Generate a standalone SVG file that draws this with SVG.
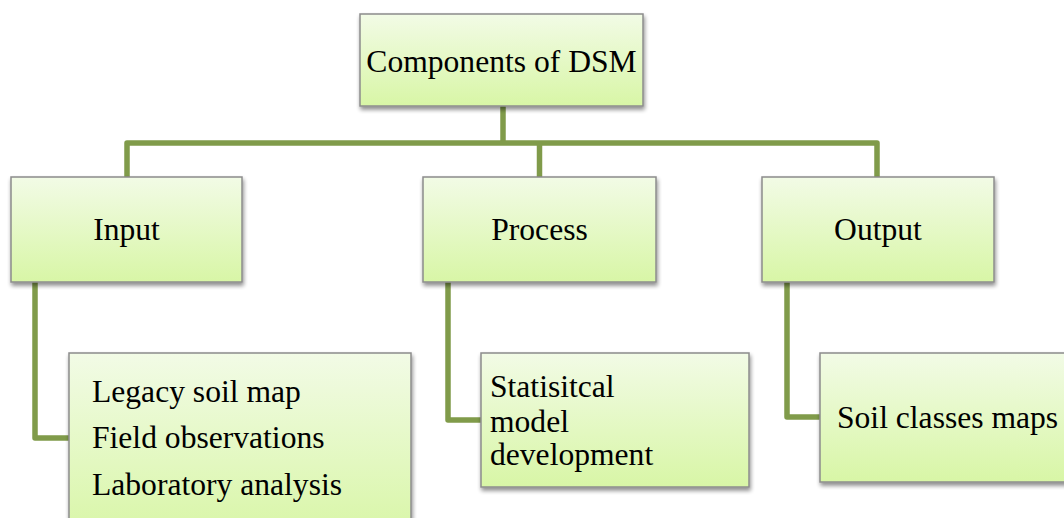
<svg xmlns="http://www.w3.org/2000/svg" width="1064" height="518" viewBox="0 0 1064 518">
<defs>
<linearGradient id="g" x1="0" y1="0" x2="0" y2="1">
<stop offset="0" stop-color="#f2fbe6"/>
<stop offset="1" stop-color="#d8f6a6"/>
</linearGradient>
<filter id="sh" x="-10%" y="-10%" width="125%" height="130%">
<feGaussianBlur in="SourceAlpha" stdDeviation="2"/>
<feOffset dx="1" dy="3" result="b"/>
<feComponentTransfer><feFuncA type="linear" slope="0.45"/></feComponentTransfer>
<feMerge><feMergeNode/><feMergeNode in="SourceGraphic"/></feMerge>
</filter>
</defs>
<style>
.box{fill:url(#g);stroke:#8c8c8c;stroke-width:1.5;filter:url(#sh)}
.t{font-family:"Liberation Serif","Times New Roman",serif;font-size:31.6px;fill:#000}
.c{text-anchor:middle}
.ln{fill:none;stroke:#809b4a;stroke-width:5.5;stroke-linejoin:round}
</style>
<g id="connectors">
<path class="ln" d="M503 106 V143"/>
<path class="ln" d="M127 177 V143 H877 V177"/>
<path class="ln" d="M539.5 143 V177"/>
<path class="ln" d="M35 282 V438 H69"/>
<path class="ln" d="M448 282 V420 H481"/>
<path class="ln" d="M787 282 V417 H820"/>
</g>
<g id="root">
<rect class="box" x="360" y="14" width="283" height="92"/>
<text class="t c" x="501.5" y="72">Components of DSM</text>
</g>
<g id="input">
<rect class="box" x="11" y="177" width="231" height="105"/>
<text class="t c" x="126.5" y="240">Input</text>
</g>
<g id="process">
<rect class="box" x="423" y="177" width="233" height="105"/>
<text class="t c" x="539.5" y="240">Process</text>
</g>
<g id="output">
<rect class="box" x="762" y="177" width="232" height="105"/>
<text class="t c" x="878" y="240">Output</text>
</g>
<g id="input-items">
<rect class="box" x="69" y="353" width="342" height="185"/>
<text class="t" x="92" y="402">Legacy soil map</text>
<text class="t" x="92" y="448">Field observations</text>
<text class="t" x="92" y="495">Laboratory analysis</text>
</g>
<g id="process-items">
<rect class="box" x="481" y="353" width="268" height="134"/>
<text class="t" x="490" y="397">Statisitcal</text>
<text class="t" x="490" y="432">model</text>
<text class="t" x="490" y="465">development</text>
</g>
<g id="output-items">
<rect class="box" x="820" y="353" width="260" height="129"/>
<text class="t" x="837" y="428">Soil classes maps</text>
</g>
</svg>
